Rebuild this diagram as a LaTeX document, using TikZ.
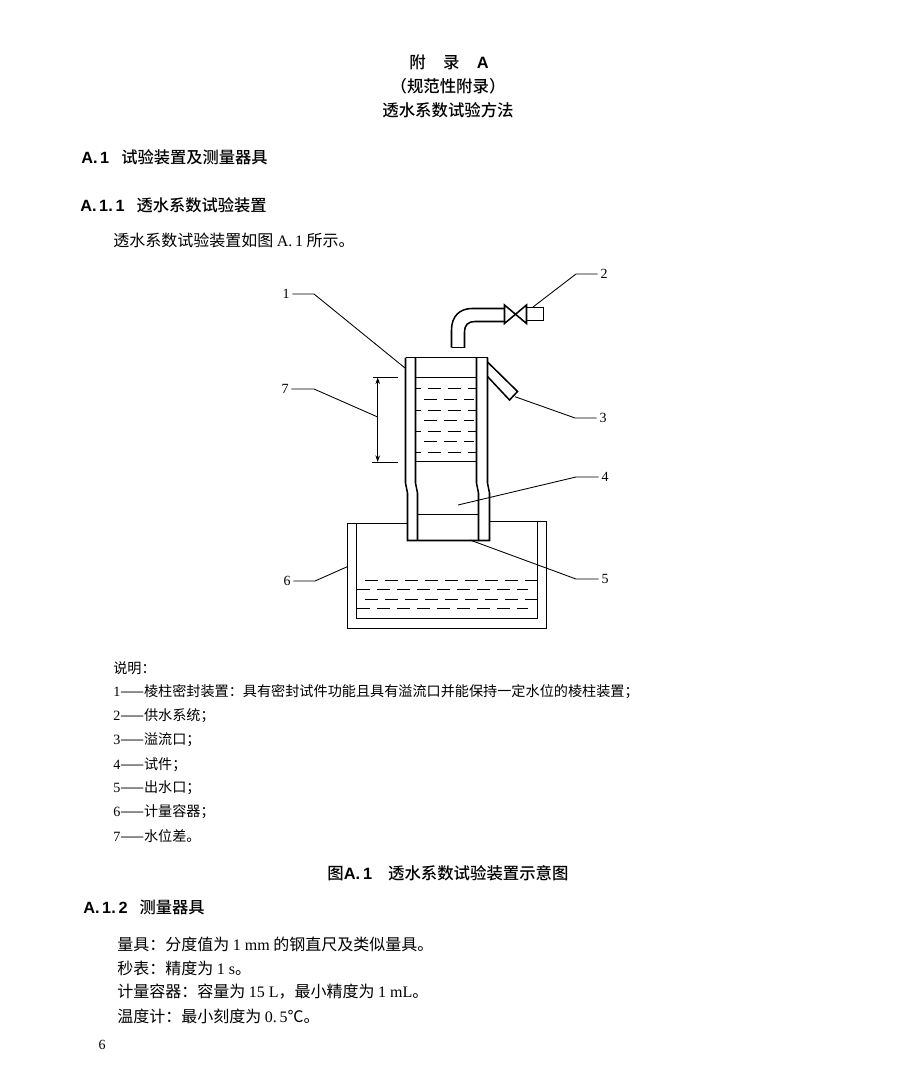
\documentclass[tikz,border=0pt]{standalone}
\usepackage{fontspec}
\setmainfont{Liberation Serif}
\setsansfont{Liberation Sans}
\newfontfamily\cjk{Noto Sans CJK SC}
\newfontfamily\cjkm{Noto Sans CJK SC Medium}
\usetikzlibrary{arrows.meta}
\tikzset{
  wall/.style={line width=1.15pt},
  lead/.style={line width=0.65pt},
  wave/.style={line width=0.95pt, dash pattern=on 10pt off 5pt},
  tag/.style={font=\fontsize{10.5}{12}\selectfont, inner sep=2pt},
  head/.style={font=\fontsize{12.2}{14}\selectfont\cjkm, inner sep=0pt, anchor=west},
  titleline/.style={font=\fontsize{12.3}{14}\selectfont\cjkm, inner sep=0pt},
  bodyline/.style={font=\fontsize{12}{14}\selectfont\cjk, inner sep=0pt, anchor=west},
  legendline/.style={font=\fontsize{10.6}{12}\selectfont\cjk, inner sep=0pt, anchor=west}
}
\newcommand{\lat}[1]{{\rmfamily #1}}
\newcommand{\san}[1]{{\sffamily\bfseries #1}}
\begin{document}
\begin{tikzpicture}[x=0.75pt,y=-0.75pt]
  \useasboundingbox (0,0) rectangle (922,1070);

  % Page headings
  \node[titleline] (t1) at (449,62) {附\hspace{13pt}录\hspace{13pt}\san{A}};
  \node[titleline] (t2) at (448,86) {（规范性附录）};
  \node[titleline] (t3) at (448,110) {透水系数试验方法};
  \node[head] (h1) at (81,157) {\san{A.\,1}\hspace{9pt}试验装置及测量器具};
  \node[head] (h2) at (80,205) {\san{A.\,1.\,1}\hspace{9pt}透水系数试验装置};
  \node[bodyline] (b0) at (113,240) {透水系数试验装置如图 \lat{A.\,1} 所示。};

  % Supply pipe and valve
  \draw[wall] (451.5,347.5) -- (451.5,330) .. controls (451.5,316) and (460,308.5) .. (472,308.5) -- (504.5,308.5);
  \draw[wall] (464.5,347.5) -- (464.5,332) .. controls (464.5,325) and (468,321.5) .. (475,321.5) -- (504.5,321.5);
  \draw[wall] (451.5,347.5) -- (464.5,347.5);
  \draw[wall] (504.5,305) -- (504.5,323.5) -- (526.5,305) -- (526.5,323.5) -- cycle;
  \draw[wall] (526.5,307.5) rectangle (543.5,320.5);

  % Prism column
  \draw[wall] (405.5,357.5) -- (487.5,357.5);
  \draw[wall] (405.5,357.5) -- (405.5,483) -- (407.5,493) -- (407.5,540.5) -- (489.5,540.5) -- (489.5,493) -- (487.5,483) -- (487.5,357.5);
  \draw[wall] (415.5,357.5) -- (415.5,483) -- (417.5,493) -- (417.5,540.5);
  \draw[wall] (476.5,357.5) -- (476.5,483) -- (478.5,493) -- (478.5,540.5);
  \draw[wall] (415.5,377.5) -- (476.5,377.5);
  \draw[wall] (415.5,461.5) -- (476.5,461.5);
  \draw[wall] (417.5,514.5) -- (478.5,514.5);

  % Overflow
  \draw[wall] (487.5,362) -- (517.5,391.5) -- (509.5,400) -- (487.5,376.5);

  % Water in the column
  \foreach \y in {388.5,410.5,431.5,452.5} {
    \draw[wave, dash phase=6pt] (415.5,\y) -- (476.5,\y);
  }
  \foreach \y in {399.5,420.5,441.5} {
    \draw[wave] (424,\y) -- (474,\y);
  }

  % Measuring vessel
  \draw[wall] (407,523.5) -- (347.5,523.5) -- (347.5,628.5) -- (546.5,628.5) -- (546.5,521.5) -- (489,521.5);
  \draw[wall] (356.5,523.5) -- (356.5,618.5) -- (537.5,618.5) -- (537.5,521.5);
  \foreach \y in {580.5,599.5} {
    \draw[wave] (365,\y) -- (537.5,\y);
  }
  \foreach \y in {589.5,608.5} {
    \draw[wave] (357,\y) -- (528,\y);
  }

  % Water level difference
  \draw[lead] (373,377.5) -- (398,377.5);
  \draw[lead] (372,462) -- (398,462);
  \coordinate (d1) at (377.7,377.5);
  \coordinate (d2) at (377.7,462);
  \draw[lead, {Stealth[length=5pt,width=3.5pt]}-{Stealth[length=5pt,width=3.5pt]}] (d1) -- (d2);

  % Number tags
  \node[tag] (n1) at (286,294) {1};
  \node[tag] (n2) at (604,274) {2};
  \node[tag] (n3) at (603,418) {3};
  \node[tag] (n4) at (605,477) {4};
  \node[tag] (n5) at (605,579) {5};
  \node[tag] (n6) at (287,581) {6};
  \node[tag] (n7) at (285,389) {7};

  \foreach \i/\kx/\ex/\ey in {1/314/405/368, 2/576/533/307, 3/575/515/396.7, 4/576/458/505, 5/576/470/540, 6/315/347.3/566.7, 7/314/377.7/417} {
    \coordinate (e\i) at (\ex,\ey);
    \draw[lead] (n\i) -- (\kx,0 |- n\i) -- (e\i);
  }

  % Key
  \node[legendline] (k0) at (113,668) {说明：};
  \node[legendline] (k1) at (113,692) {\lat{1}——棱柱密封装置：具有密封试件功能且具有溢流口并能保持一定水位的棱柱装置；};
  \node[legendline] (k2) at (113,716) {\lat{2}——供水系统；};
  \node[legendline] (k3) at (113,740) {\lat{3}——溢流口；};
  \node[legendline] (k4) at (113,765) {\lat{4}——试件；};
  \node[legendline] (k5) at (113,788) {\lat{5}——出水口；};
  \node[legendline] (k6) at (113,812) {\lat{6}——计量容器；};
  \node[legendline] (k7) at (113,836) {\lat{7}——水位差。};

  % Caption and last clause
  \node[titleline] (c1) at (448,873) {图\san{A.\,1}\hspace{12pt}透水系数试验装置示意图};
  \node[head] (h3) at (83,907) {\san{A.\,1.\,2}\hspace{9pt}测量器具};
  \node[bodyline] (b1) at (117,944) {量具：分度值为 \lat{1 mm} 的钢直尺及类似量具。};
  \node[bodyline] (b2) at (117,968) {秒表：精度为 \lat{1 s}。};
  \node[bodyline] (b3) at (117,992) {计量容器：容量为 \lat{15 L}，最小精度为 \lat{1 mL}。};
  \node[bodyline] (b4) at (117,1016) {温度计：最小刻度为 \lat{0.\,5}℃。};
  \node[tag] (p6) at (102,1045) {6};
\end{tikzpicture}
\end{document}
